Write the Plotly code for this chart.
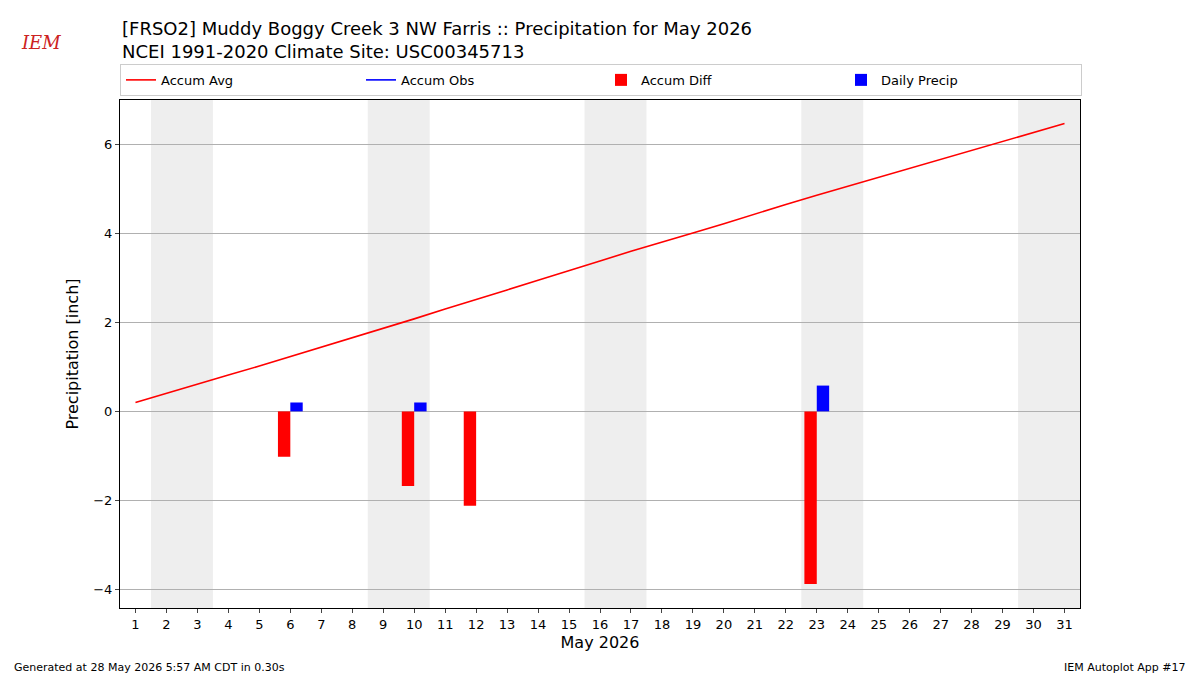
import plotly.graph_objects as go

days = list(range(1, 32))
accum_avg = [0.20, 0.41, 0.61, 0.82, 1.02, 1.23, 1.45, 1.66, 1.87, 2.08, 2.30, 2.51, 2.73, 2.95, 3.16,
             3.38, 3.60, 3.80, 4.01, 4.22, 4.44, 4.65, 4.86, 5.06, 5.26, 5.46, 5.66, 5.86, 6.06, 6.26, 6.47]
obs_days = [6, 10, 12, 23]
accum_diff = [-1.02, -1.68, -2.12, -3.88]
precip_days = [6, 10, 23]
daily_precip = [0.20, 0.20, 0.58]
weekends = [(2, 3), (9, 10), (16, 17), (23, 24), (30, 31)]

fig = go.Figure()
fig.add_trace(go.Scatter(x=days, y=accum_avg, mode="lines", name="Accum Avg",
                         line=dict(color="red", width=1.6)))
fig.add_trace(go.Scatter(x=[None], y=[None], mode="lines", name="Accum Obs",
                         line=dict(color="blue", width=1.6)))
fig.add_trace(go.Bar(x=[d - 0.2 for d in obs_days], y=accum_diff, width=0.4,
                     name="Accum Diff", marker=dict(color="red", line=dict(width=0))))
fig.add_trace(go.Bar(x=[d + 0.2 for d in precip_days], y=daily_precip, width=0.4,
                     name="Daily Precip", marker=dict(color="blue", line=dict(width=0))))

for a, b in weekends:
    fig.add_vrect(x0=a - 0.5, x1=b + 0.5, fillcolor="#eeeeee", line_width=0, layer="below")

fig.update_layout(
    width=1200, height=675, template="none", barmode="overlay",
    font=dict(family="DejaVu Sans", size=13, color="black"),
    margin=dict(l=120, r=120, t=100, b=67, pad=0, autoexpand=False),
    plot_bgcolor="white", paper_bgcolor="white",
    showlegend=True,
    legend=dict(orientation="h", x=0, y=1.008, xanchor="left", yanchor="bottom",
                entrywidth=195, bordercolor="#cccccc", borderwidth=1, font=dict(size=13),
                tracegroupgap=0),
    xaxis=dict(range=[0.5, 31.5], tickvals=days, ticktext=[str(d) for d in days],
               title=dict(text="May 2026", font=dict(size=16), standoff=6),
               showgrid=False, showline=True, linecolor="black", mirror=True,
               ticks="outside", ticklen=4, zeroline=False, automargin=False),
    yaxis=dict(range=[-4.42, 7.0], tickvals=[-4, -2, 0, 2, 4, 6],
               title=dict(text="Precipitation [inch]", font=dict(size=16)),
               showgrid=True, gridcolor="#b0b0b0", showline=True, linecolor="black",
               mirror=True, ticks="outside", ticklen=4, zeroline=False, automargin=False),
)
fig.add_annotation(text="[FRSO2] Muddy Boggy Creek 3 NW Farris :: Precipitation for May 2026<br>"
                        "NCEI 1991-2020 Climate Site: USC00345713",
                   xref="paper", yref="paper", x=0, y=1.0, xanchor="left", yanchor="bottom",
                   yshift=36, align="left", showarrow=False, font=dict(size=18))
fig.add_annotation(text="Generated at 28 May 2026 5:57 AM CDT in 0.30s", xref="paper", yref="paper",
                   x=-0.113, y=0, yshift=-68, xanchor="left", yanchor="bottom",
                   showarrow=False, font=dict(size=11))
fig.add_annotation(text="IEM Autoplot App #17", xref="paper", yref="paper",
                   x=1.113, y=0, yshift=-68, xanchor="right", yanchor="bottom",
                   showarrow=False, font=dict(size=11))
fig.add_annotation(text="<i>IEM</i>", xref="paper", yref="paper", x=-0.105, y=1.0, yshift=45,
                   xanchor="left", yanchor="bottom", showarrow=False,
                   font=dict(family="DejaVu Serif", size=18, color="#cc2222"))
fig.write_html("out.html", config={"displayModeBar": False},
               post_script="document.body.style.margin='0';")
